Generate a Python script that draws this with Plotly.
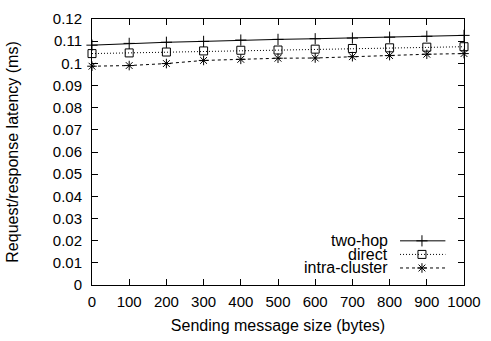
import plotly.graph_objects as go

sizes = [0, 100, 200, 300, 400, 500, 600, 700, 800, 900, 1000]
two_hop = [0.1082, 0.1090, 0.1095, 0.1099, 0.1105, 0.1108, 0.1111, 0.1114, 0.1118, 0.1122, 0.1126]
direct = [0.1044, 0.1047, 0.1051, 0.1056, 0.1059, 0.1060, 0.1064, 0.1067, 0.1070, 0.1073, 0.1075]
intra = [0.0987, 0.0990, 0.0999, 0.1013, 0.1018, 0.1023, 0.1024, 0.1030, 0.1035, 0.1041, 0.1044]
series_names = ["two-hop", "direct", "intra-cluster"]

y_ticks = [i / 100 for i in range(13)]
y_ticktext = ["0", "0.01", "0.02", "0.03", "0.04", "0.05", "0.06", "0.07", "0.08", "0.09", "0.1", "0.11", "0.12"]
x_ticks = sizes

FONT = "Liberation Sans, Arial, Helvetica, sans-serif"
styles = [
    dict(dash="solid", symbol="cross-thin-open", size=8),
    dict(dash="1px,2px", symbol="square-open", size=8),
    dict(dash="3px,3px", symbol="asterisk-open", size=8),
]

fig = go.Figure()
for name, ys, st in zip(series_names, [two_hop, direct, intra], styles):
    fig.add_trace(go.Scatter(
        x=sizes, y=ys, mode="lines+markers", name=name, showlegend=False,
        line=dict(color="black", width=1, dash=st["dash"]),
        marker=dict(symbol=st["symbol"], size=st["size"], color="black",
                    line=dict(color="black", width=1)),
        cliponaxis=False,
    ))

# legend (gnuplot style: text on the left, key on the right)
leg_y = [0.166, 0.115, 0.064]
for name, st, ly in zip(series_names, styles, leg_y):
    fig.add_trace(go.Scatter(
        x=[0.828, 0.887, 0.95], y=[ly, ly, ly], xaxis="x2", yaxis="y2",
        mode="lines", showlegend=False, hoverinfo="skip",
        line=dict(color="black", width=1, dash=st["dash"]),
    ))
    fig.add_trace(go.Scatter(
        x=[0.887], y=[ly], xaxis="x2", yaxis="y2",
        mode="markers", showlegend=False, hoverinfo="skip",
        marker=dict(symbol=st["symbol"], size=st["size"], color="black",
                    line=dict(color="black", width=1)),
    ))
    fig.add_annotation(x=0.80, y=ly, xref="x2", yref="y2", text=name,
                       showarrow=False, xanchor="right", yanchor="middle",
                       font=dict(family=FONT, size=16, color="black"))

axis_common = dict(
    showgrid=False, zeroline=False, showline=True, linecolor="black", linewidth=1,
    mirror="ticks", ticks="inside", ticklen=6, tickcolor="black", tickwidth=1,
    tickfont=dict(family=FONT, size=15, color="black"),
)

fig.update_layout(
    width=491, height=341,
    margin=dict(l=92, r=20, t=10, b=54),
    paper_bgcolor="white", plot_bgcolor="white",
    font=dict(family=FONT, size=15, color="black"),
    xaxis=dict(range=[0, 1000], tickvals=x_ticks,
               title=dict(text="Sending message size (bytes)", standoff=10,
                          font=dict(family=FONT, size=16)),
               ticklabelstandoff=3, **axis_common),
    yaxis=dict(range=[0, 0.12], tickvals=y_ticks, ticktext=y_ticktext,
               title=dict(text="Request/response latency (ms)", standoff=30,
                          font=dict(family=FONT, size=16)),
               ticklabelstandoff=6, **axis_common),
    xaxis2=dict(range=[0, 1], overlaying="x", visible=False, fixedrange=True),
    yaxis2=dict(range=[0, 1], overlaying="y", visible=False, fixedrange=True),
)

fig.write_html("out.html", config={"displayModeBar": False},
               post_script="document.body.style.margin='0';")
